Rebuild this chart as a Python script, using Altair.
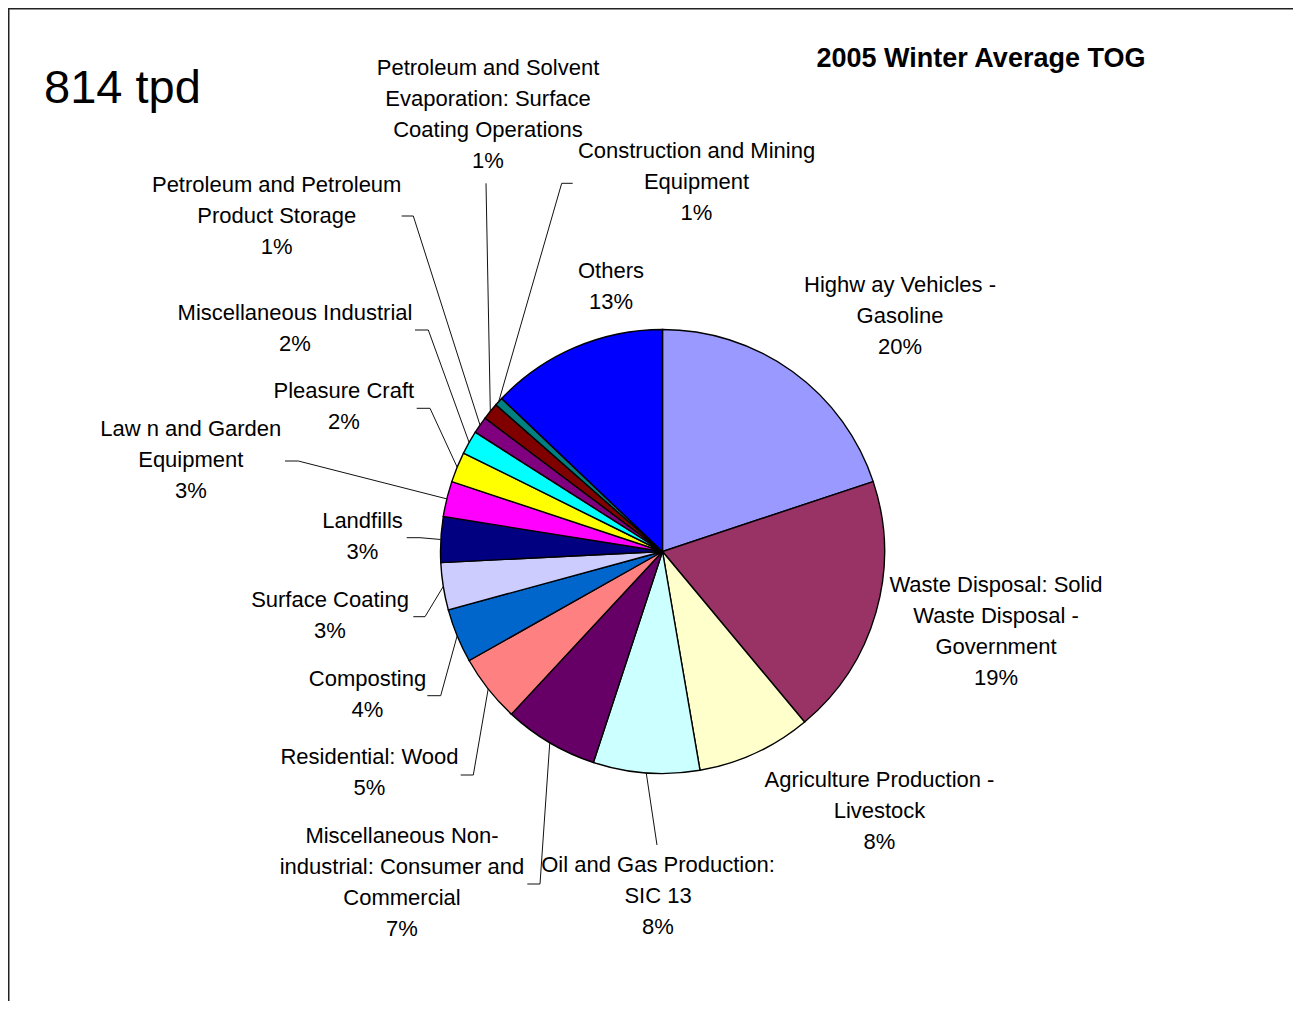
import altair as alt
import pandas as pd

# ---- data ----
names = [
    "Highway Vehicles - Gasoline",
    "Waste Disposal: Solid Waste Disposal - Government",
    "Agriculture Production - Livestock",
    "Oil and Gas Production: SIC 13",
    "Miscellaneous Non-industrial: Consumer and Commercial",
    "Residential: Wood",
    "Composting",
    "Surface Coating",
    "Landfills",
    "Lawn and Garden Equipment",
    "Pleasure Craft",
    "Miscellaneous Industrial",
    "Petroleum and Petroleum Product Storage",
    "Petroleum and Solvent Evaporation: Surface Coating Operations",
    "Construction and Mining Equipment",
    "Others",
]
label_lines = [
    "Highw ay Vehicles -\nGasoline",
    "Waste Disposal: Solid\nWaste Disposal -\nGovernment",
    "Agriculture Production -\nLivestock",
    "Oil and Gas Production:\nSIC 13",
    "Miscellaneous Non-\nindustrial: Consumer and\nCommercial",
    "Residential: Wood",
    "Composting",
    "Surface Coating",
    "Landfills",
    "Law n and Garden\nEquipment",
    "Pleasure Craft",
    "Miscellaneous Industrial",
    "Petroleum and Petroleum\nProduct Storage",
    "Petroleum and Solvent\nEvaporation: Surface\nCoating Operations",
    "Construction and Mining\nEquipment",
    "Others",
]
values_tpd = [162, 155, 68, 63, 56, 40, 32, 28, 27, 21, 18, 14, 10, 10, 5, 105]
colors = [
    "#9999FF", "#993366", "#FFFFCC", "#CCFFFF", "#660066", "#FF8080",
    "#0066CC", "#CCCCFF", "#000080", "#FF00FF", "#FFFF00", "#00FFFF",
    "#800080", "#800000", "#008080", "#0000FF",
]
title_text = "2005 Winter Average TOG"

# ---- label layout (pixel offsets from pie centre) ----
label_dx = [237.5, 333.5, 217, -4.5, -260.5, -293, -295, -332.5, -300, -471.7, -318.7, -367.5, -385.8, -174.5, 34, -51.5]
label_dy = [-259.5, 40.5, 235.5, 320.5, 291.5, 212.8, 134.2, 55.2, -23.2, -115.5, -153.2, -231.5, -359.8, -476.5, -393.2, -273.2]
has_leader = [False, False, False, True, True, True, True, True, True, True, True, True, True, True, True, False]
elbow_dx = [0, 0, 0, -5.5, -122.5, -189.2, -221.8, -237.5, -242.5, -364.2, -232.5, -234.2, -249.2, -176.5, -100.8, 0]
elbow_dy = [0, 0, 0, 293.5, 332.5, 223.5, 144.2, 65.2, -13.8, -90.5, -143.2, -221.5, -335.5, -368.2, -368.2, 0]
end_dx = [0, 0, 0, -5.5, -135.2, -201.8, -235.2, -249.2, -255.8, -377.5, -245.8, -247.5, -260.8, -176.5, -89.8, 0]
end_dy = [0, 0, 0, 293.5, 332.5, 223.5, 144.2, 65.2, -13.8, -90.5, -143.2, -221.5, -335.5, -368.2, -368.2, 0]

CX, CY, R = 654.5, 543.5, 222
W, H = 1285, 993
FONT = "Liberation Sans"

df = pd.DataFrame({
    "name": names,
    "label": label_lines,
    "value": values_tpd,
    "order": list(range(len(names))),
    "ldx": label_dx, "ldy": label_dy,
    "leader": has_leader,
    "bdx": elbow_dx, "bdy": elbow_dy,
    "edx": end_dx, "edy": end_dy,
})

base = alt.Chart(df)

pie = base.mark_arc(outerRadius=R, stroke="black", strokeWidth=1.4).encode(
    theta=alt.Theta("value:Q", stack=True),
    order=alt.Order("order:Q", sort="ascending"),
    color=alt.Color("name:N", scale=alt.Scale(domain=names, range=colors), legend=None),
    x=alt.value(CX),
    y=alt.value(CY),
)

geo = base.transform_joinaggregate(
    total="sum(value)"
).transform_window(
    cum="sum(value)", sort=[alt.SortField("order", order="ascending")]
).transform_calculate(
    mid="(datum.cum - datum.value/2) / datum.total * 2 * PI"
).transform_calculate(
    sx=f"{CX} + {R} * sin(datum.mid)",
    sy=f"{CY} - {R} * cos(datum.mid)",
    bx=f"{CX} + datum.bdx",
    by=f"{CY} + datum.bdy",
    ex=f"{CX} + datum.edx",
    ey=f"{CY} + datum.edy",
    tx=f"{CX} + datum.ldx",
    ty=f"{CY} + datum.ldy",
    lab="datum.label + '\\n' + format(datum.value / datum.total, '.0%')",
)

leader1 = geo.transform_filter("datum.leader").mark_rule(color="#111111", strokeWidth=1).encode(
    x=alt.X("sx:Q", scale=None), y=alt.Y("sy:Q", scale=None),
    x2="bx:Q", y2="by:Q",
)
leader2 = geo.transform_filter("datum.leader").mark_rule(color="#111111", strokeWidth=1).encode(
    x=alt.X("bx:Q", scale=None), y=alt.Y("by:Q", scale=None),
    x2="ex:Q", y2="ey:Q",
)

labels = geo.mark_text(
    font=FONT, fontSize=22, lineHeight=31, lineBreak="\n",
    align="center", baseline="alphabetic", color="black",
).encode(
    x=alt.X("tx:Q", scale=None), y=alt.Y("ty:Q", scale=None), text="lab:N"
)

total_txt = base.transform_aggregate(total="sum(value)").transform_calculate(
    t="format(datum.total, 'd') + ' tpd'"
).mark_text(font=FONT, fontSize=47, align="left", baseline="alphabetic", color="black").encode(
    x=alt.value(36), y=alt.value(95), text="t:N"
)

title = alt.Chart(pd.DataFrame({"t": [title_text]})).mark_text(
    font=FONT, fontSize=27, fontWeight="bold", align="center", baseline="alphabetic", color="black"
).encode(x=alt.value(973), y=alt.value(58.5), text="t:N")

frame_top = alt.Chart(pd.DataFrame({"a": [0]})).mark_rule(color="#222222", strokeWidth=1.5).encode(
    x=alt.value(0), x2=alt.value(W), y=alt.value(0.75)
)
frame_left = alt.Chart(pd.DataFrame({"a": [0]})).mark_rule(color="#222222", strokeWidth=1.5).encode(
    x=alt.value(0.75), y=alt.value(0), y2=alt.value(H)
)

chart = alt.layer(
    pie, leader1, leader2, labels, total_txt, title, frame_top, frame_left
).properties(
    width=W, height=H, autosize=alt.AutoSizeParams(type="none"), padding=0
).configure_view(stroke=None)

chart.save("out.html", embed_options={"renderer": "svg", "actions": False})
